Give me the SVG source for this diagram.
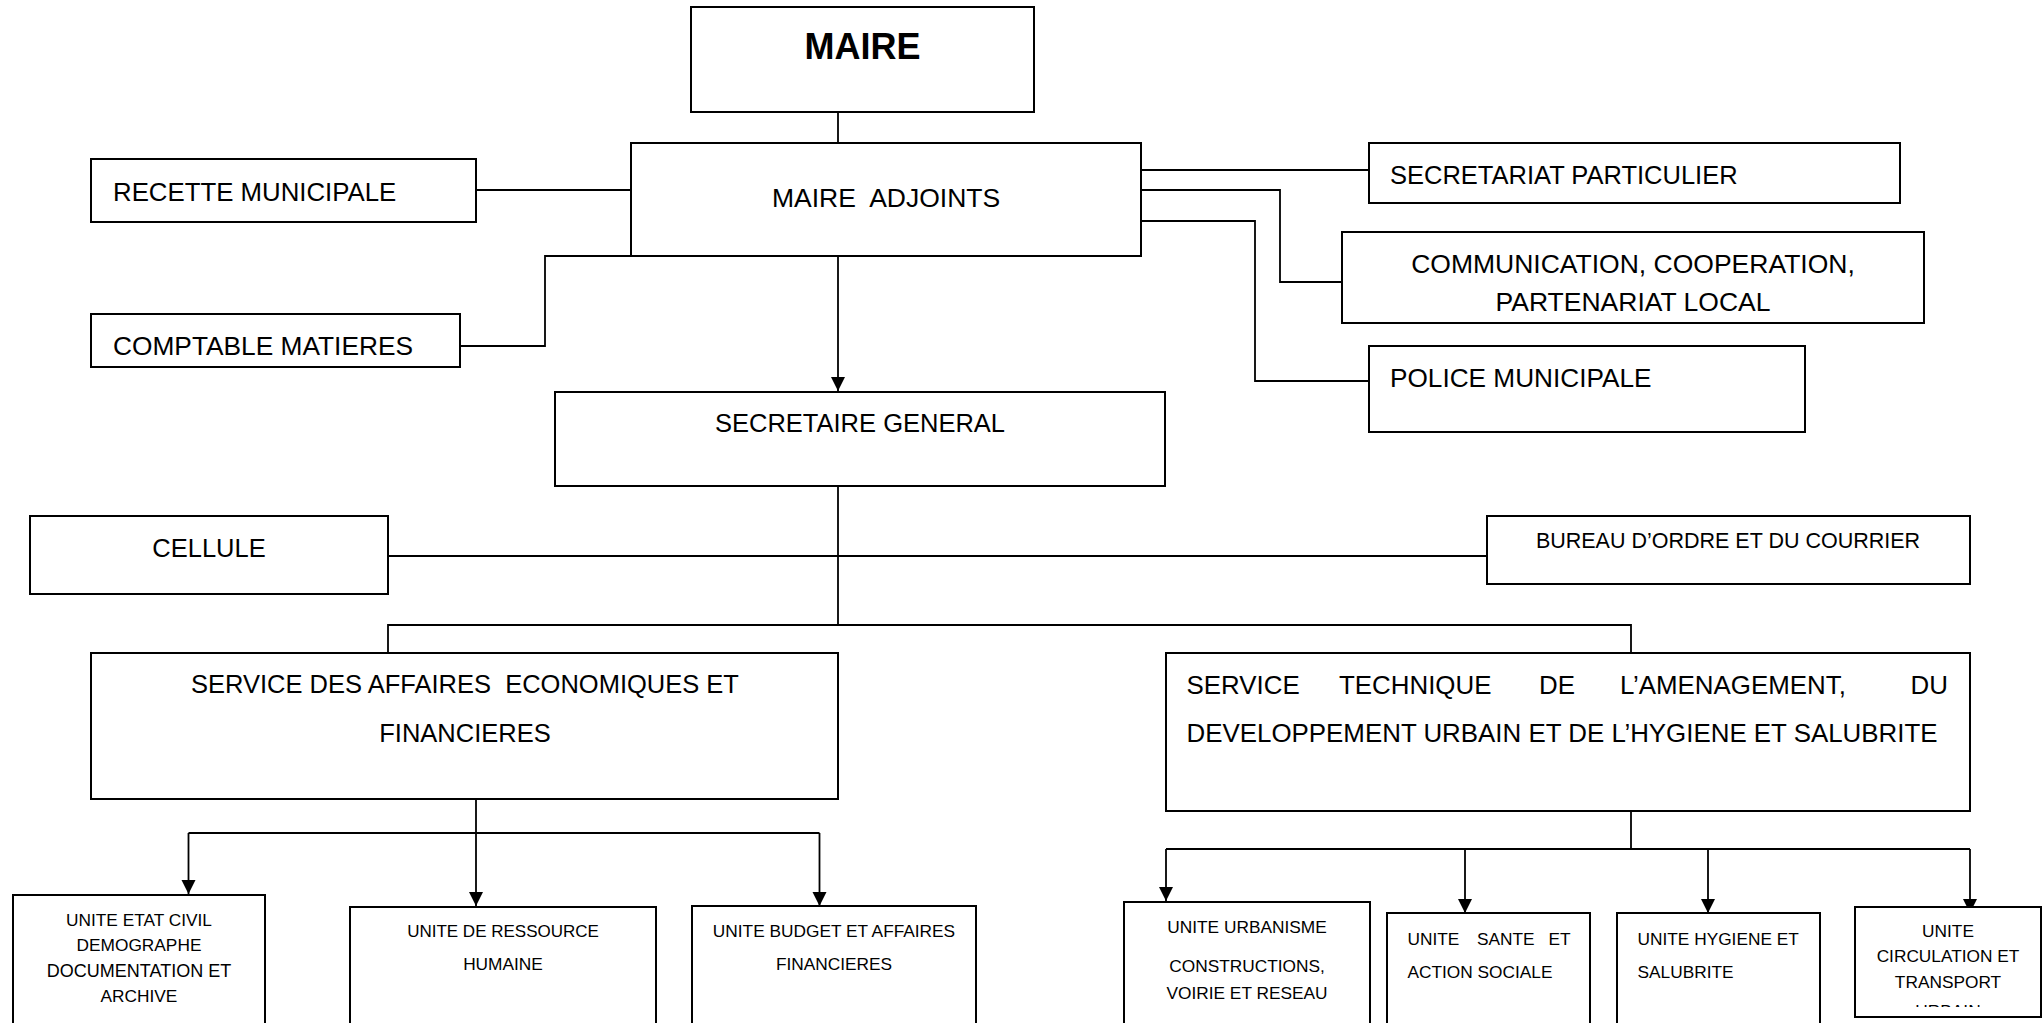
<svg xmlns="http://www.w3.org/2000/svg" width="2044" height="1023" viewBox="0 0 2044 1023">
<style>
.box{fill:#fff;stroke:#000;stroke-width:2}
.t{font-family:"Liberation Sans",Arial,sans-serif;font-size:25.5px;fill:#000}
.s{font-family:"Liberation Sans",Arial,sans-serif;font-size:17.3px;fill:#000}
.c{text-anchor:middle}
.ln{fill:none;stroke:#000;stroke-width:1.8}
</style>
<defs>
<marker id="arr" markerUnits="userSpaceOnUse" markerWidth="15" markerHeight="15" refX="14" refY="7" orient="auto"><path d="M0,0 L14,7 L0,14 z" fill="#000"/></marker>
<clipPath id="clipU"><rect x="1855" y="990" width="186" height="17"/></clipPath>
</defs>
<rect width="2044" height="1023" fill="#fff"/>
<g id="connectors">
<path class="ln" d="M838,112 V143"/>
<path class="ln" d="M476,190 H631"/>
<path class="ln" d="M631,256 H545 V346 H460"/>
<path class="ln" d="M1141,170 H1369"/>
<path class="ln" d="M1141,190 H1280 V282 H1342"/>
<path class="ln" d="M1141,221 H1255 V381 H1369"/>
<path class="ln" d="M838,256 V391" marker-end="url(#arr)"/>
<path class="ln" d="M838,486 V625"/>
<path class="ln" d="M388,556 H1487"/>
<path class="ln" d="M388,653 V625 H1631 V653"/>
<path class="ln" d="M476,799 V833"/>
<path class="ln" d="M188.5,833 H819.5"/>
<path class="ln" d="M188.5,833 V894" marker-end="url(#arr)"/>
<path class="ln" d="M476,833 V906" marker-end="url(#arr)"/>
<path class="ln" d="M819.5,833 V906" marker-end="url(#arr)"/>
<path class="ln" d="M1631,811 V849"/>
<path class="ln" d="M1166,849 H1970"/>
<path class="ln" d="M1166,849 V901" marker-end="url(#arr)"/>
<path class="ln" d="M1465,849 V913" marker-end="url(#arr)"/>
<path class="ln" d="M1708,849 V913" marker-end="url(#arr)"/>
<path class="ln" d="M1970,849 V913" marker-end="url(#arr)"/>
</g>
<g id="maire"><rect class="box" x="691" y="7" width="343" height="105"/><text class="t c" x="862.5" y="59" style="font-weight:bold;font-size:36px">MAIRE</text></g>
<g id="maire-adjoints"><rect class="box" x="631" y="143" width="510" height="113"/><text class="t" x="772" y="207" xml:space="preserve" style="font-size:26.5px">MAIRE  ADJOINTS</text></g>
<g id="recette"><rect class="box" x="91" y="159" width="385" height="63"/><text class="t" x="113" y="201" style="font-size:25.8px">RECETTE MUNICIPALE</text></g>
<g id="comptable"><rect class="box" x="91" y="314" width="369" height="53"/><text class="t" x="113" y="355" style="font-size:26.3px">COMPTABLE MATIERES</text></g>
<g id="secretariat"><rect class="box" x="1369" y="143" width="531" height="60"/><text class="t" x="1390" y="184">SECRETARIAT PARTICULIER</text></g>
<g id="communication"><rect class="box" x="1342" y="232" width="582" height="91"/><text class="t c" x="1633" y="273" style="font-size:26.5px">COMMUNICATION, COOPERATION,</text><text class="t c" x="1633" y="311" style="font-size:26.5px">PARTENARIAT LOCAL</text></g>
<g id="police"><rect class="box" x="1369" y="346" width="436" height="86"/><text class="t" x="1390" y="387" style="font-size:26.2px">POLICE MUNICIPALE</text></g>
<g id="secretaire-general"><rect class="box" x="555" y="392" width="610" height="94"/><text class="t c" x="860" y="432">SECRETAIRE GENERAL</text></g>
<g id="cellule"><rect class="box" x="30" y="516" width="358" height="78"/><text class="t c" x="209" y="557">CELLULE</text></g>
<g id="bureau"><rect class="box" x="1487" y="516" width="483" height="68"/><text class="t c" x="1728" y="548" style="font-size:21.5px">BUREAU D’ORDRE ET DU COURRIER</text></g>
<g id="service-eco"><rect class="box" x="91" y="653" width="747" height="146"/><text class="t c" x="465" y="693" xml:space="preserve">SERVICE DES AFFAIRES  ECONOMIQUES ET</text><text class="t c" x="465" y="742">FINANCIERES</text></g>
<g id="service-tech"><rect class="box" x="1166" y="653" width="804" height="158"/><text class="t" y="694" style="font-size:25.9px"><tspan x="1186.5">SERVICE</tspan><tspan x="1339">TECHNIQUE</tspan><tspan x="1539">DE</tspan><tspan x="1620">L’AMENAGEMENT,</tspan></text><text class="t" x="1948" y="694" style="text-anchor:end;font-size:25.9px">DU</text><text class="t" x="1186.5" y="742" style="font-size:25.9px">DEVELOPPEMENT URBAIN ET DE L’HYGIENE ET SALUBRITE</text></g>
<g id="unite-etat-civil"><rect class="box" x="13" y="895" width="252" height="140"/><text class="s c" x="139" y="926">UNITE ETAT CIVIL</text><text class="s c" x="139" y="951">DEMOGRAPHE</text><text class="s c" x="139" y="977" style="font-size:18px">DOCUMENTATION ET</text><text class="s c" x="139" y="1002">ARCHIVE</text></g>
<g id="unite-rh"><rect class="box" x="350" y="907" width="306" height="130"/><text class="s c" x="503" y="937" style="font-size:17px">UNITE DE RESSOURCE</text><text class="s c" x="503" y="970">HUMAINE</text></g>
<g id="unite-budget"><rect class="box" x="692" y="906" width="284" height="130"/><text class="s c" x="834" y="937">UNITE BUDGET ET AFFAIRES</text><text class="s c" x="834" y="970">FINANCIERES</text></g>
<g id="unite-urbanisme"><rect class="box" x="1124" y="902" width="246" height="135"/><text class="s c" x="1247" y="933">UNITE URBANISME</text><text class="s c" x="1247" y="972">CONSTRUCTIONS,</text><text class="s c" x="1247" y="999">VOIRIE ET RESEAU</text></g>
<g id="unite-sante"><rect class="box" x="1387" y="913" width="203" height="125"/><text class="s" y="945"><tspan x="1407.5">UNITE</tspan><tspan x="1477">SANTE</tspan></text><text class="s" x="1570.5" y="945" style="text-anchor:end">ET</text><text class="s" x="1407.5" y="978">ACTION SOCIALE</text></g>
<g id="unite-hygiene"><rect class="box" x="1617" y="913" width="203" height="125"/><text class="s" x="1637.5" y="945">UNITE HYGIENE ET</text><text class="s" x="1637.5" y="978">SALUBRITE</text></g>
<g id="unite-circulation"><rect class="box" x="1855" y="907" width="186" height="110"/><text class="s c" x="1948" y="937">UNITE</text><text class="s c" x="1948" y="962">CIRCULATION ET</text><text class="s c" x="1948" y="988">TRANSPORT</text><text class="s c" x="1948" y="1017" clip-path="url(#clipU)">URBAIN</text></g>
</svg>
